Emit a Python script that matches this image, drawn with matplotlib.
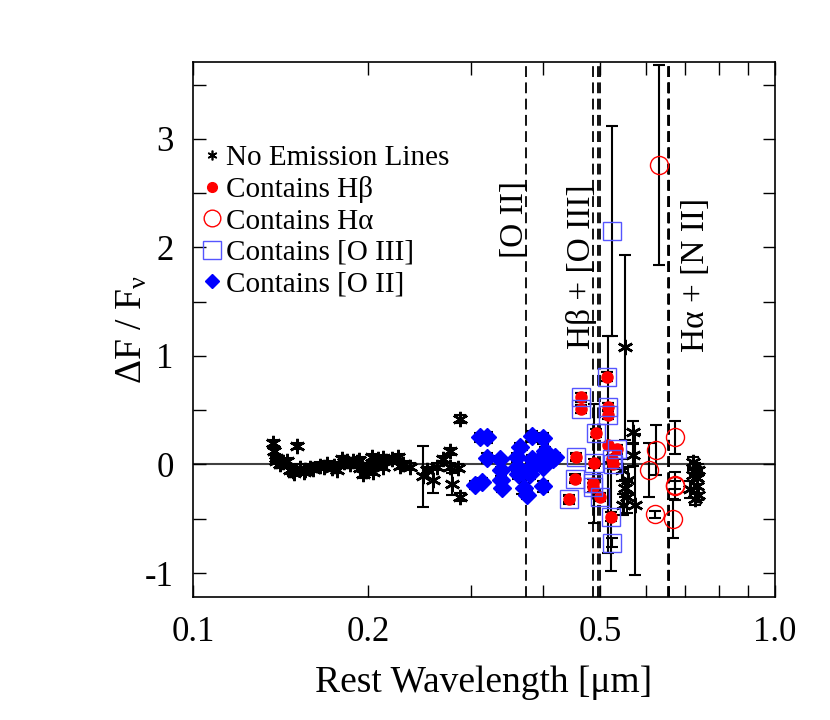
import matplotlib
matplotlib.use("Agg")
import matplotlib.pyplot as plt
from matplotlib.lines import Line2D

plt.rcParams['font.family'] = ['Liberation Serif', 'DejaVu Serif']
plt.rcParams['mathtext.fontset'] = 'custom'
plt.rcParams['mathtext.rm'] = 'Liberation Serif'
plt.rcParams['mathtext.it'] = 'Liberation Serif:italic'
plt.rcParams['axes.unicode_minus'] = False

# --- data: rest wavelength [um], dF/F, error ---
star_x = [0.137, 0.138, 0.139, 0.139, 0.141, 0.145, 0.151, 0.147, 0.1485, 0.153,
          0.156, 0.159, 0.165, 0.170, 0.173, 0.177, 0.180, 0.184, 0.186, 0.191,
          0.194, 0.196, 0.201, 0.203, 0.204, 0.208, 0.212, 0.212, 0.225, 0.230,
          0.236, 0.2485, 0.2525, 0.2585, 0.263, 0.269, 0.2765, 0.2765, 0.279, 0.285,
          0.288, 0.288, 0.143, 0.149, 0.155, 0.161, 0.168, 0.175, 0.182, 0.188,
          0.193, 0.198, 0.206, 0.215, 0.220, 0.227,
          0.5526, 0.570, 0.570, 0.559, 0.556, 0.549, 0.575, 0.546, 0.553,
          0.7228, 0.7286, 0.7345, 0.7145, 0.7345, 0.7375, 0.7286, 0.7228, 0.7375]
star_y = [0.20, 0.12, 0.06, 0.03, 0.00, 0.03, 0.17, -0.05, -0.06, -0.03,
          -0.05, -0.03, -0.01, 0.00, -0.03, -0.05, 0.05, 0.03, 0.00, 0.02,
          -0.03, -0.09, -0.02, 0.07, -0.07, 0.05, 0.06, -0.02, 0.07, 0.00,
          -0.02, -0.11, -0.05, -0.14, -0.02, 0.05, 0.12, -0.02, -0.18, -0.03,
          0.42, -0.30, 0.02, -0.08, -0.07, -0.04, -0.02, -0.01, 0.02, 0.03,
          0.04, -0.06, 0.00, 0.03, 0.05, -0.01,
          1.08, 0.30, 0.09, -0.14, -0.30, -0.37, -0.37, -0.05, -0.22,
          0.02, -0.05, -0.12, -0.23, -0.20, -0.28, -0.32, -0.10, -0.05]
star_err = [0.03] * 31 + [0.28, 0.03, 0.12, 0.03, 0.03, 0.03, 0.03, 0.10, 0.03,
            0.04, 0.04] + [0.03] * 14 + \
           [0.85, 0.10, 0.10, 0.12, 0.15, 0.10, 0.65, 0.10, 0.08] + \
           [0.05, 0.06, 0.06, 0.08, 0.06, 0.05, 0.05, 0.05, 0.05]

hb_x = [0.464, 0.464, 0.455, 0.4534, 0.4426, 0.4925, 0.4887, 0.4867, 0.4867, 0.5004,
        0.5144, 0.5164, 0.5164, 0.5164, 0.5351, 0.5247, 0.5267, 0.5226]
hb_y = [0.62, 0.51, 0.07, -0.13, -0.32, 0.29, 0.01, -0.17, -0.21, -0.30,
        0.81, 0.53, 0.46, 0.18, 0.14, 0.05, 0.00, -0.48]
hb_err = [0.04, 0.04, 0.03, 0.03, 0.03, 0.04, 0.55, 0.04, 0.04, 0.04,
          0.04, 0.04, 0.04, 1.00, 0.04, 0.04, 0.04, 0.50]

o3_x = [0.464, 0.464, 0.455, 0.4534, 0.4426, 0.4925, 0.4887, 0.4867, 0.4867, 0.5004,
        0.5144, 0.5164, 0.5164, 0.5351, 0.5247, 0.5267, 0.5226, 0.5247, 0.5247]
o3_y = [0.62, 0.51, 0.07, -0.13, -0.32, 0.29, 0.01, -0.17, -0.21, -0.30,
        0.81, 0.53, 0.46, 0.14, 0.05, 0.00, -0.48, 2.15, -0.72]
o3_err = [0.04] * 17 + [0.97, 0.04]

ha_x = [0.632, 0.625, 0.6078, 0.6222, 0.6733, 0.6733, 0.6733, 0.667]
ha_y = [2.76, 0.13, -0.05, -0.46, 0.25, -0.20, -0.19, -0.50]
ha_err = [0.92, 0.23, 0.25, 0.03, 0.15, 0.13, 0.04, 0.18]

o2_x = [0.3112, 0.3200, 0.3200, 0.305, 0.3137, 0.3368, 0.3381, 0.3381, 0.3395, 0.3823,
        0.3993, 0.3603, 0.3646, 0.3675, 0.3617, 0.3763, 0.3793, 0.3748, 0.4024, 0.4056,
        0.4154, 0.3993, 0.3993, 0.4188, 0.3823, 0.3899, 0.3603, 0.3700]
o2_y = [0.25, 0.25, 0.06, -0.19, -0.16, 0.05, -0.05, -0.14, -0.22, 0.26,
        0.24, 0.07, 0.16, -0.07, -0.09, -0.05, -0.09, -0.28, 0.12, 0.05,
        0.05, -0.02, -0.20, 0.07, 0.05, 0.02, -0.02, -0.22]
o2_err = [0.04, 0.05, 0.05, 0.04, 0.04, 0.03, 0.03, 0.03, 0.03, 0.05,
          0.05, 0.04, 0.04, 0.20, 0.04, 0.04, 0.04, 0.04, 0.04, 0.04,
          0.04, 0.04, 0.05, 0.04, 0.04, 0.04, 0.04, 0.05]

line_waves = [0.3727, 0.4861, 0.4959, 0.5007, 0.6548, 0.6563, 0.6583]

asterisk = (6, 2, 0)

fig = plt.figure(figsize=(8.3, 7.2), dpi=100)
ax = fig.add_axes([0.2325, 0.171, 0.7012, 0.743])

ax.axhline(0, color='#404040', lw=1.5, zorder=1)
for w in line_waves:
    ax.axvline(w, color='black', lw=1.3, dashes=(6, 3), zorder=1)

eb = dict(fmt='none', ecolor='black', elinewidth=1.5, capsize=4, capthick=1.5, zorder=2)
ax.errorbar(star_x, star_y, yerr=star_err, **eb)
ax.errorbar(o2_x, o2_y, yerr=o2_err, **eb)
ax.errorbar(hb_x, hb_y, yerr=hb_err, **eb)
ax.errorbar(o3_x, o3_y, yerr=o3_err, **eb)
ax.errorbar(ha_x, ha_y, yerr=ha_err, **eb)

ax.plot(star_x, star_y, ls='none', marker=asterisk, ms=11, mew=1.8, color='black', zorder=3)
ax.plot(o2_x, o2_y, ls='none', marker='D', ms=9, color='#0000ff', mec='#0000ff', zorder=3)
ax.plot(hb_x, hb_y, ls='none', marker='o', ms=8, color='red', mec='red', zorder=4)
ax.plot(o3_x, o3_y, ls='none', marker='s', ms=13, mfc='none', mec='#5555ff', mew=1.0, zorder=5)
ax.plot(ha_x, ha_y, ls='none', marker='o', ms=13, mfc='none', mec='red', mew=1.0, zorder=5)

ax.set_xscale('log')
ax.set_xlim(0.1, 1.0)
ax.set_ylim(-1.22, 3.71)

xt = [0.1, 0.2, 0.3, 0.4, 0.5, 0.6, 0.7, 0.8, 0.9, 1.0]
xl = ['0.1', '0.2', '', '', '0.5', '', '', '', '', '1.0']
ax.set_xticks(xt, labels=xl)
ax.xaxis.set_minor_locator(matplotlib.ticker.NullLocator())
ax.set_yticks([-1, 0, 1, 2, 3])
ax.set_yticks([-0.5, 0.5, 1.5, 2.5, 3.5], minor=True)
ax.tick_params(which='both', direction='in', top=True, right=True, length=9,
               width=1, labelsize=25, pad=14)
for s in ax.spines.values():
    s.set_linewidth(1.2)

ax.set_xlabel('Rest Wavelength [μm]', fontsize=27, labelpad=12)
ax.set_ylabel('ΔF / F$_{\\mathrm{ν}}$', fontsize=27)
ax.yaxis.set_label_coords(-0.075, 0.5)

ax.text(0.357, 2.26, '[O II]', rotation=90, fontsize=24, ha='center', va='center')
ax.text(0.465, 1.82, 'Hβ + [O III]', rotation=90, fontsize=24, ha='center', va='center')
ax.text(0.73, 1.75, 'Hα + [N II]', rotation=90, fontsize=24, ha='center', va='center')

handles = [
    Line2D([], [], ls='none', marker=asterisk, ms=7, mew=1.2, color='black'),
    Line2D([], [], ls='none', marker='o', ms=7, color='red'),
    Line2D([], [], ls='none', marker='o', ms=12, mfc='none', mec='red', mew=1.0),
    Line2D([], [], ls='none', marker='s', ms=13, mfc='none', mec='#5555ff', mew=1.0),
    Line2D([], [], ls='none', marker='D', ms=7, color='#0000ff'),
]
labels = ['No Emission Lines', 'Contains Hβ', 'Contains Hα', 'Contains [O III]', 'Contains [O II]']
ax.legend(handles, labels, loc='upper left', bbox_to_anchor=(0.015, 0.845), frameon=False,
          fontsize=21, handlelength=0.7, handletextpad=0.15, labelspacing=0.17,
          borderpad=0, borderaxespad=0)

fig.savefig('out.png', dpi=100)
